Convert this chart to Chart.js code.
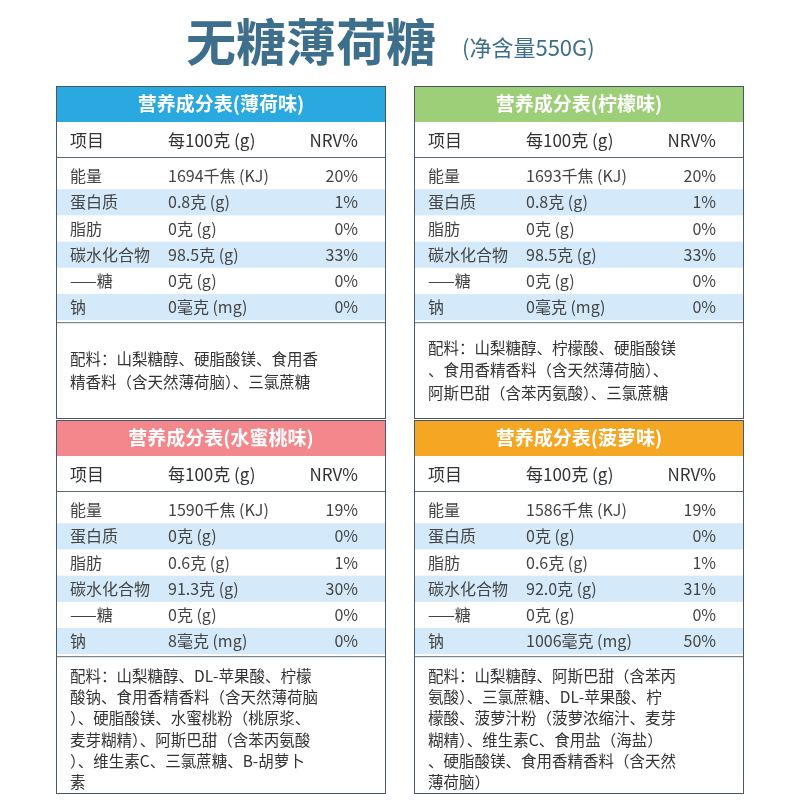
<!DOCTYPE html><html><head><meta charset="utf-8">
<script src="https://cdn.jsdelivr.net/npm/chart.js@4"></script>
<style>body{margin:0;background:#fff}canvas{display:block}</style></head><body>
<canvas id="c" width="800" height="800"></canvas>
<script>
const rowNames=["能量","蛋白质","脂肪","碳水化合物","——糖","钠"];
const flavors=["营养成分表(薄荷味)","营养成分表(柠檬味)","营养成分表(水蜜桃味)","营养成分表(菠萝味)"];
const mintVals=["1694千焦 (KJ)","0.8克 (g)","0克 (g)","98.5克 (g)","0克 (g)","0毫克 (mg)"];
const mintNrv=["20%","1%","0%","33%","0%","0%"];
const lemonVals=["1693千焦 (KJ)","0.8克 (g)","0克 (g)","98.5克 (g)","0克 (g)","0毫克 (mg)"];
const lemonNrv=["20%","1%","0%","33%","0%","0%"];
const peachVals=["1590千焦 (KJ)","0克 (g)","0.6克 (g)","91.3克 (g)","0克 (g)","8毫克 (mg)"];
const peachNrv=["19%","0%","1%","30%","0%","0%"];
const pineVals=["1586千焦 (KJ)","0克 (g)","0.6克 (g)","92.0克 (g)","0克 (g)","1006毫克 (mg)"];
const pineNrv=["19%","0%","1%","31%","0%","50%"];
const mintIng=["配料：山梨糖醇、硬脂酸镁、食用香","精香料（含天然薄荷脑）、三氯蔗糖"];
const lemonIng=["配料：山梨糖醇、柠檬酸、硬脂酸镁","、食用香精香料（含天然薄荷脑）、","阿斯巴甜（含苯丙氨酸）、三氯蔗糖"];
const peachIng=["配料：山梨糖醇、DL-苹果酸、柠檬","酸钠、食用香精香料（含天然薄荷脑","）、硬脂酸镁、水蜜桃粉（桃原浆、","麦芽糊精）、阿斯巴甜（含苯丙氨酸","）、维生素C、三氯蔗糖、B-胡萝卜","素"];
const pineIng=["配料：山梨糖醇、阿斯巴甜（含苯丙","氨酸）、三氯蔗糖、DL-苹果酸、柠","檬酸、菠萝汁粉（菠萝浓缩汁、麦芽","糊精）、维生素C、食用盐（海盐）","、硬脂酸镁、食用香精香料（含天然","薄荷脑）"];
const colHead=["项目","每100克 (g)","NRV%"];
const F='"Noto Sans CJK SC","Noto Sans",sans-serif';
function panel(ctx,x,y,col,title,vals,nrv,ing,bottom){
  const w=330;
  ctx.fillStyle=col;ctx.fillRect(x,y,w,36);
  ctx.fillStyle='#fff';ctx.font='bold 19px '+F;ctx.textAlign='center';ctx.textBaseline='middle';
  ctx.fillText(title,x+w/2,y+18);
  ctx.fillStyle='#333';ctx.font='17px '+F;ctx.textAlign='left';
  ctx.fillText(colHead[0],x+14,y+55);ctx.fillText(colHead[1],x+112,y+55);
  ctx.textAlign='right';ctx.fillText(colHead[2],x+302,y+55);
  ctx.strokeStyle='#5a6a78';ctx.lineWidth=1;
  ctx.beginPath();ctx.moveTo(x,y+71.5);ctx.lineTo(x+w,y+71.5);ctx.stroke();
  const r0=y+77,rh=26.2;
  vals.forEach((v,i)=>{
    const ry=r0+i*rh;
    if(i%2===1){ctx.fillStyle='#d4eafa';ctx.fillRect(x+1,ry,w-2,rh);}
    ctx.fillStyle='#444';ctx.font='16px '+F;ctx.textAlign='left';
    ctx.fillText(rowNames[i],x+14,ry+rh/2);ctx.fillText(v,x+112,ry+rh/2);
    ctx.textAlign='right';ctx.fillText(nrv[i],x+302,ry+rh/2);
  });
  const iy=r0+6*rh+2;
  ctx.beginPath();ctx.moveTo(x,iy+0.5);ctx.lineTo(x+w,iy+0.5);ctx.stroke();
  const lh=ing.length>3?21.2:22.5, tot=ing.length*lh, sy=ing.length>3?iy+20:iy+(bottom-iy-tot)/2+lh/2;
  ctx.fillStyle='#333';ctx.font='15.5px '+F;ctx.textAlign='left';
  ing.forEach((l,i)=>ctx.fillText(l,x+14,sy+i*lh));
  ctx.strokeStyle='#4a5866';ctx.strokeRect(x+0.5,y+0.5,w-1,bottom-y-1);
}
const tablePlugin={id:'tables',afterDraw(chart){
  const ctx=chart.ctx;ctx.save();
  ctx.fillStyle='#3d6f8c';ctx.font='bold 50px '+F;ctx.textAlign='left';ctx.textBaseline='middle';
  ctx.fillText('无糖薄荷糖',186,42);
  ctx.font='22px '+F;ctx.fillText('(净含量550G)',462,48);
  panel(ctx,56,86,'#2aa8e0',flavors[0],mintVals,mintNrv,mintIng,419);
  panel(ctx,414,86,'#9dcf78',flavors[1],lemonVals,lemonNrv,lemonIng,419);
  panel(ctx,56,420,'#f4878b',flavors[2],peachVals,peachNrv,peachIng,794);
  panel(ctx,414,420,'#f5a623',flavors[3],pineVals,pineNrv,pineIng,794);
  ctx.restore();
}};
new Chart(document.getElementById('c'),{type:'bar',data:{labels:rowNames,datasets:[]},
 options:{responsive:false,animation:false,devicePixelRatio:1,plugins:{legend:{display:false},tooltip:{enabled:false}},
 scales:{x:{display:false},y:{display:false}}},plugins:[tablePlugin]});
</script></body></html>
